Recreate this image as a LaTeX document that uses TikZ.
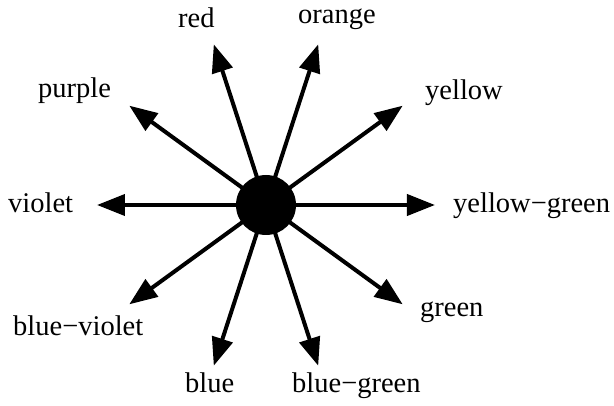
\documentclass[tikz,border=0pt]{standalone}
\usepackage{fontspec}
\setmainfont{Liberation Serif}
\usetikzlibrary{arrows.meta}
\begin{document}
\begin{tikzpicture}[x=1pt, y=1pt, font=\fontsize{28.5}{34}\selectfont, line join=round, line cap=round, >={Triangle[length=28pt,width=21pt]}]
	\useasboundingbox (-266,-201) rectangle (348,205);
	\foreach \i/\l in {108/R, 72/O, 36/Y, 0/YG, -36/G, -72/BG, -108/B, -144/BV, 180/V, 144/P}
	\coordinate (\l) at (\i:169);
	\node[circle, fill, inner sep=0, minimum size=60pt] (hub) at (0,0) {};
	\foreach \l in {R,O,Y,YG,G,BG,B,BV,V,P} \draw[->, line width=4pt] (hub) -- (\l);
	\foreach \p/\t/\l in {(-88,177)/red/lR, (32,181)/orange/lO, (159,105)/yellow/lY, (187,-8)/yellow−green/lYG, (154,-112)/green/lG, (26,-188)/blue−green/lBG, (-81,-188)/blue/lB, (-253,-131)/blue−violet/lBV, (-258,-8)/violet/lV, (-228,107)/purple/lP}
	\node[anchor=base west, inner sep=0] (\l) at \p {\t};
\end{tikzpicture}
\end{document}
